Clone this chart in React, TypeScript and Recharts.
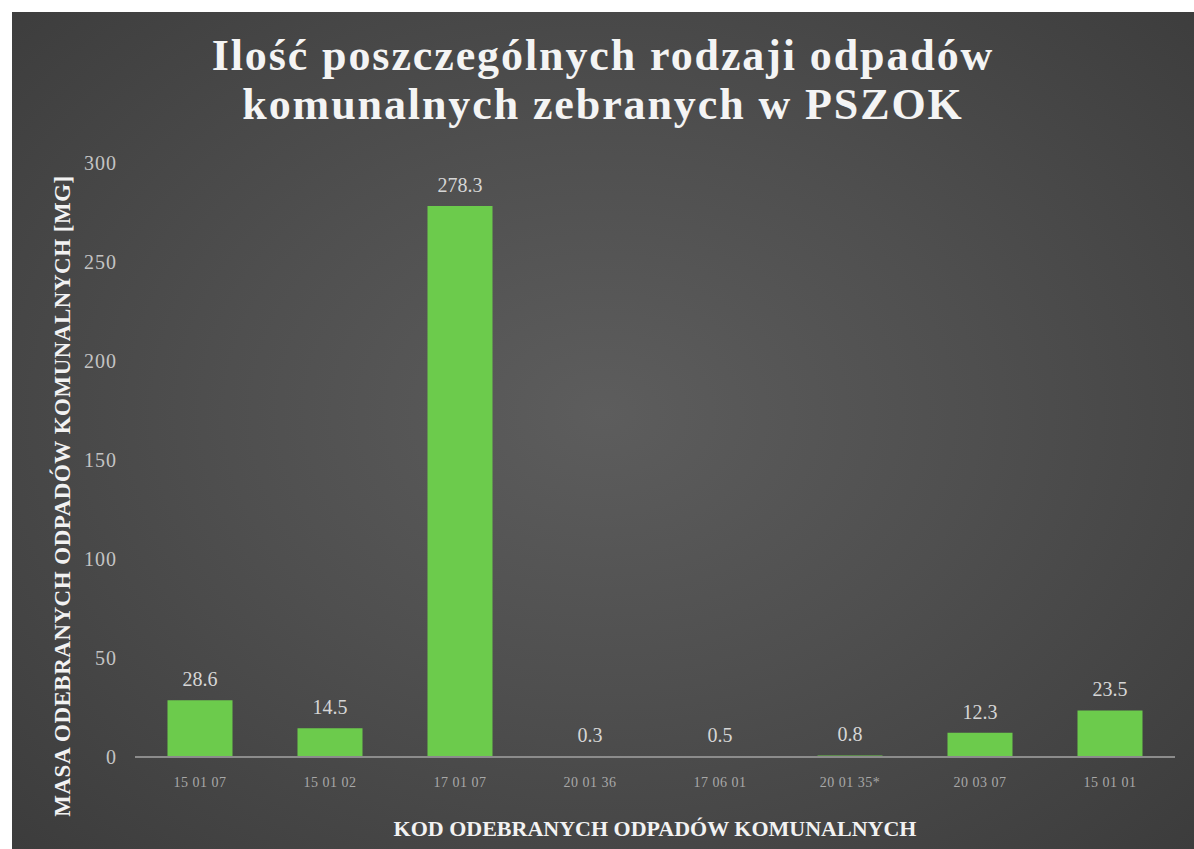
import React from 'react';
import { BarChart, Bar, XAxis, YAxis, LabelList, Label } from 'recharts';

const codes = ['15 01 07', '15 01 02', '17 01 07', '20 01 36', '17 06 01', '20 01 35*', '20 03 07', '15 01 01'];
const masses = [28.6, 14.5, 278.3, 0.3, 0.5, 0.8, 12.3, 23.5];
const yTicks = [0, 50, 100, 150, 200, 250, 300];

const data = codes.map((code, i) => ({ code, mass: masses[i] }));

const serif = '"Liberation Serif", "Times New Roman", serif';

export default function App(): React.ReactElement {
  return (
    <div style={{ position: 'absolute', left: 0, top: 0, width: 1194, height: 849, background: '#ffffff', overflow: 'hidden' }}>
      <div
        style={{
          position: 'absolute',
          left: 12,
          top: 12,
          width: 1182,
          height: 837,
          background: 'radial-gradient(ellipse at 50% 48%, #5d5d5d 0%, #4f4f4f 45%, #3c3c3c 100%)',
        }}
      >
        <div
          style={{
            position: 'absolute',
            left: 0,
            top: 19,
            width: 1182,
            textAlign: 'center',
            fontFamily: serif,
            fontWeight: 700,
            fontSize: 44,
            lineHeight: '49px',
            letterSpacing: '1.9px',
            color: '#f4f4f4',
          }}
        >
          Ilość poszczególnych rodzaji odpadów
          <br />
          komunalnych zebranych w PSZOK
        </div>
        <BarChart
          width={1182}
          height={837}
          data={data}
          margin={{ top: 151, right: 19, bottom: 62, left: 43 }}
          barCategoryGap="25%"
        >
          <XAxis
            dataKey="code"
            axisLine={{ stroke: '#8c8c8c', strokeWidth: 2 }}
            tickLine={false}
            tickMargin={14}
            tick={{ fill: '#a8a8a8', fontSize: 14, fontFamily: serif, letterSpacing: '0.5px' }}
            interval={0}
          >
            <Label
              content={({ viewBox }: any) => (
                <text
                  x={viewBox.x + viewBox.width / 2}
                  y={viewBox.y + 79}
                  textAnchor="middle"
                  fill="#f2f2f2"
                  fontFamily={serif}
                  fontWeight={700}
                  fontSize={22}
                >
                  KOD ODEBRANYCH ODPADÓW KOMUNALNYCH
                </text>
              )}
            />
          </XAxis>
          <YAxis
            width={80}
            domain={[0, 300]}
            ticks={yTicks}
            axisLine={false}
            tickLine={false}
            tickMargin={12}
            tick={{ fill: '#c4c4c4', fontSize: 20, fontFamily: serif, letterSpacing: '1px' }}
          >
            <Label
              content={({ viewBox }: any) => {
                const cx = viewBox.x + 7;
                const cy = viewBox.y + viewBox.height / 2 + 36;
                return (
                  <text
                    x={cx}
                    y={cy}
                    transform={`rotate(-90 ${cx} ${cy})`}
                    textAnchor="middle"
                    dominantBaseline="central"
                    fill="#f2f2f2"
                    fontFamily={serif}
                    fontWeight={700}
                    fontSize={23}
                    letterSpacing="0.5px"
                  >
                    MASA ODEBRANYCH ODPADÓW KOMUNALNYCH [MG]
                  </text>
                );
              }}
            />
          </YAxis>
          <Bar dataKey="mass" fill="#6ccb4c" isAnimationActive={false}>
            <LabelList
              dataKey="mass"
              position="top"
              offset={14}
              fill="#d6d6d6"
              fontSize={20}
              fontFamily={serif}
              formatter={(v: any) => String(v)}
            />
          </Bar>
        </BarChart>
      </div>
    </div>
  );
}
